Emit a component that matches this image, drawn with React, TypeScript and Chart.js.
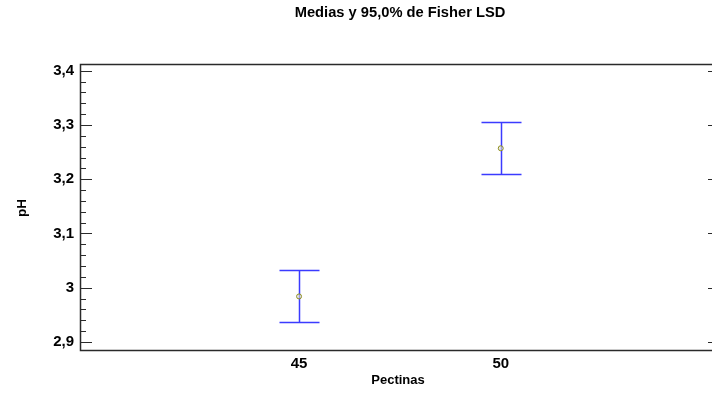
import React, { useEffect, useRef } from 'react';
import { Chart, registerables } from 'chart.js';

Chart.register(...registerables);

const TITLE = 'Medias y 95,0% de Fisher LSD';
const X_TITLE = 'Pectinas';
const Y_TITLE = 'pH';
const categories = ['45', '50'];
const means = [2.984, 3.257];
const lower = [2.936, 3.21];
const upper = [3.032, 3.305];
const yTicks = [2.9, 3.0, 3.1, 3.2, 3.3, 3.4];
const yMinorStep = 0.02;

const FONT = '"Liberation Sans", Arial, sans-serif';

const customPlugin = {
  id: 'statgraphicsDecor',
  beforeDatasetsDraw(chart: any) {
    const { ctx, scales } = chart;
    const x = scales.x;
    const y = scales.y;
    ctx.save();
    ctx.strokeStyle = '#3b3bff';
    ctx.lineWidth = 1.5;
    categories.forEach((_, i) => {
      const px = Math.round(x.getPixelForValue(i)) + 0.5;
      const yl = Math.round(y.getPixelForValue(lower[i])) + 0.5;
      const yu = Math.round(y.getPixelForValue(upper[i])) + 0.5;
      ctx.beginPath();
      ctx.moveTo(px, yl);
      ctx.lineTo(px, yu);
      ctx.moveTo(px - 20, yl);
      ctx.lineTo(px + 20, yl);
      ctx.moveTo(px - 20, yu);
      ctx.lineTo(px + 20, yu);
      ctx.stroke();
    });
    ctx.restore();
  },
  afterDraw(chart: any) {
    const { ctx, chartArea: a, scales } = chart;
    const y = scales.y;
    ctx.save();
    // frame
    ctx.strokeStyle = '#2a2a2a';
    ctx.lineWidth = 1.5;
    ctx.strokeRect(a.left + 0.5, a.top + 0.5, a.right - a.left, a.bottom - a.top);
    // ticks
    ctx.lineWidth = 1;
    const lo = yTicks[0];
    const hi = yTicks[yTicks.length - 1];
    const n = Math.round((hi - lo) / yMinorStep);
    for (let k = 0; k <= n; k++) {
      const v = lo + k * yMinorStep;
      const major = k % 5 === 0;
      const py = Math.round(y.getPixelForValue(v)) + 0.5;
      ctx.beginPath();
      ctx.moveTo(a.left, py);
      ctx.lineTo(a.left + (major ? 12 : 6), py);
      if (major) {
        ctx.moveTo(a.right, py);
        ctx.lineTo(a.right - 12, py);
      }
      ctx.stroke();
    }
    // titles
    ctx.fillStyle = '#000';
    ctx.textAlign = 'center';
    ctx.textBaseline = 'middle';
    const cx = (a.left + a.right) / 2;
    ctx.font = `bold 14.7px ${FONT}`;
    ctx.fillText(TITLE, cx, 13);
    ctx.font = `bold 13px ${FONT}`;
    ctx.fillText(X_TITLE, cx - 2, 380);
    ctx.translate(22, 208);
    ctx.rotate(-Math.PI / 2);
    ctx.font = `bold 13.5px ${FONT}`;
    ctx.fillText(Y_TITLE, 0, 0);
    ctx.restore();
  },
};

export default function App() {
  const ref = useRef<HTMLCanvasElement | null>(null);
  useEffect(() => {
    if (!ref.current) return;
    const chart = new Chart(ref.current, {
      type: 'scatter',
      data: {
        datasets: [
          {
            data: means.map((m, i) => ({ x: i, y: m })),
            pointStyle: 'circle',
            pointRadius: 2.5,
            borderColor: '#8f8f1f',
            backgroundColor: 'rgba(220,220,220,0.6)',
            borderWidth: 1,
          },
        ],
      },
      options: {
        responsive: false,
        animation: false,
        devicePixelRatio: 1,
        layout: { padding: { left: 0, right: 8, top: 64, bottom: 0 } },
        plugins: {
          legend: { display: false },
          tooltip: { enabled: false },
          title: { display: false },
        },
        scales: {
          x: {
            type: 'linear',
            min: -1.086,
            max: 2.087,
            grid: { display: false, drawTicks: false },
            border: { display: false },
            afterBuildTicks: (s: any) => {
              s.ticks = categories.map((_, i) => ({ value: i }));
            },
            afterFit: (s: any) => {
              s.height = 46;
            },
            ticks: {
              padding: 5,
              color: '#000',
              font: { family: FONT, size: 15, weight: 'bold' },
              callback: (v: any) => categories[Math.round(Number(v))] ?? '',
            },
          },
          y: {
            type: 'linear',
            min: 2.8853,
            max: 3.4123,
            grid: { display: false, drawTicks: false },
            border: { display: false },
            afterBuildTicks: (s: any) => {
              s.ticks = yTicks.map((v) => ({ value: v }));
            },
            afterFit: (s: any) => {
              s.width = 80;
            },
            ticks: {
              padding: 6,
              color: '#000',
              font: { family: FONT, size: 15, weight: 'bold' },
              callback: (v: any) => String(Math.round(Number(v) * 10) / 10).replace('.', ','),
            },
          },
        },
      },
      plugins: [customPlugin],
    } as any);
    return () => chart.destroy();
  }, []);
  return (
    <div style={{ position: 'absolute', left: 0, top: 0, width: 712, height: 396, overflow: 'hidden', background: '#fff' }}>
      <canvas ref={ref} width={728} height={396} style={{ width: 728, height: 396, display: 'block' }} />
    </div>
  );
}
